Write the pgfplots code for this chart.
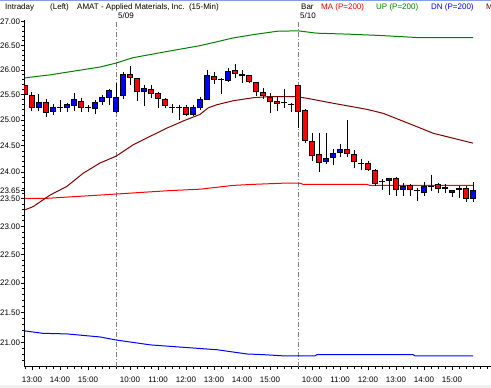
\documentclass[border=0pt]{standalone}
\usepackage{pgfplots}
\usepackage{pgfplotstable}
\pgfplotsset{compat=1.18}
\usepackage{fontspec}
\setmainfont{Liberation Sans}
\definecolor{upgreen}{RGB}{0,128,0}
\definecolor{maroonline}{RGB}{128,0,0}
\definecolor{sepgray}{RGB}{128,128,128}
\definecolor{topline}{RGB}{130,160,225}

\pgfplotstableread{
i o h l c
0 25.68 25.76 25.40 25.50
1 25.48 25.56 25.17 25.24
2 25.24 25.52 25.17 25.34
3 25.34 25.41 25.06 25.15
4 25.16 25.32 25.10 25.24
5 25.24 25.40 25.15 25.24
6 25.24 25.34 25.15 25.30
7 25.29 25.53 25.18 25.40
8 25.36 25.43 25.16 25.25
9 25.24 25.30 25.16 25.24
10 25.22 25.40 25.12 25.35
11 25.36 25.50 25.30 25.45
12 25.45 25.61 25.30 25.58
13 25.16 25.74 25.14 25.45
14 25.48 25.95 25.41 25.90
15 25.90 26.08 25.70 25.85
16 25.83 25.83 25.38 25.56
17 25.56 25.70 25.28 25.63
18 25.61 25.70 25.43 25.53
19 25.52 25.55 25.23 25.43
20 25.40 25.43 25.23 25.28
21 25.24 25.32 25.14 25.24
22 25.24 25.30 25.00 25.24
23 25.25 25.30 25.08 25.11
24 25.11 25.30 25.08 25.24
25 25.25 25.46 25.20 25.41
26 25.41 26.00 25.40 25.88
27 25.86 25.95 25.72 25.81
28 25.81 25.83 25.51 25.81
29 25.78 26.03 25.76 25.97
30 25.98 26.12 25.83 25.92
31 25.90 26.00 25.74 25.90
32 25.88 25.90 25.73 25.76
33 25.74 25.76 25.48 25.56
34 25.54 25.63 25.41 25.48
35 25.45 25.53 25.14 25.36
36 25.37 25.48 25.18 25.33
37 25.34 25.61 25.24 25.34
38 25.31 25.33 25.15 25.31
39 25.68 25.70 24.84 25.17
40 25.18 25.21 24.56 24.60
41 24.59 24.74 24.20 24.31
42 24.33 24.75 24.00 24.18
43 24.19 24.75 24.15 24.26
44 24.28 24.43 24.13 24.35
45 24.37 24.53 24.29 24.42
46 24.42 24.99 24.29 24.35
47 24.34 24.41 24.07 24.20
48 24.16 24.24 24.04 24.16
49 24.16 24.20 24.02 24.04
50 24.02 24.06 23.74 23.79
51 23.82 23.87 23.67 23.82
52 23.84 23.89 23.58 23.87
53 23.87 23.91 23.55 23.68
54 23.67 23.79 23.55 23.73
55 23.74 23.77 23.56 23.68
56 23.65 23.70 23.47 23.65
57 23.62 23.82 23.56 23.73
58 23.73 23.95 23.64 23.73
59 23.76 23.79 23.61 23.70
60 23.70 23.77 23.61 23.70
61 23.61 23.67 23.53 23.65
62 23.68 23.73 23.51 23.68
63 23.70 23.73 23.44 23.50
64 23.50 23.81 23.44 23.65
}\candles

\begin{document}
\begin{tikzpicture}[font=\fontsize{8}{9.6}\selectfont]
\clip (0,0) rectangle (491pt,388pt);
\fill[white] (0,0) rectangle (491pt,388pt);
\fill[black!6] (0,0) rectangle (491pt,2.5pt);
\draw[topline, line width=1pt] (0,387.5pt) -- (491pt,387.5pt);

\begin{axis}[
  at={(24.3pt,21pt)}, anchor=south west,
  scale only axis, width=466.7pt, height=347pt,
  xmin=-0.1, xmax=66.57,
  ymode=log, ymin=20.60, ymax=27.04,
  axis x line*=bottom, axis y line*=left,
  axis line style={black, line width=1pt},
  tick align=outside,
  major tick length=3pt, minor tick length=2pt,
  tick style={black, line width=0.8pt},
  xtick={1,5,9,15,19,23,27,31,35,41,45,49,53,57,61},
  xticklabels={13:00,14:00,15:00,10:00,11:00,12:00,13:00,14:00,15:00,10:00,11:00,12:00,13:00,14:00,15:00},
  minor xtick={0,...,66},
  ytick={21,21.5,22,22.5,23,23.5,23.65,24,24.5,25,25.5,26,26.5,27},
  yticklabels={21.00,21.50,22.00,22.50,23.00,23.50,23.65,24.00,24.50,25.00,25.50,26.00,26.50,27.00},
  minor ytick={20.7,20.8,20.9,21.1,21.2,21.3,21.4,21.6,21.7,21.8,21.9,22.1,22.2,22.3,22.4,22.6,22.7,22.8,22.9,23.1,23.2,23.3,23.4,23.6,23.7,23.8,23.9,24.1,24.2,24.3,24.4,24.6,24.7,24.8,24.9,25.1,25.2,25.3,25.4,25.6,25.7,25.8,25.9,26.1,26.2,26.3,26.4,26.6,26.7,26.8,26.9},
  xticklabel style={font=\fontsize{8}{9.6}\selectfont, inner sep=1pt, yshift=-6pt},
  yticklabel style={font=\fontsize{8}{9.6}\selectfont, inner sep=1pt},
  grid=none,
]
% session separators
\addplot[sepgray, line width=0.8pt, dash pattern=on 5pt off 2pt on 1pt off 2pt, forget plot] coordinates {(13,20.60) (13,27.04)};
\addplot[sepgray, line width=0.8pt, dash pattern=on 5pt off 2pt on 1pt off 2pt, forget plot] coordinates {(39,20.60) (39,27.04)};

% UP (P=200)
\addplot[upgreen, line width=1pt] coordinates {
(0,25.84) (3.57,25.90) (10.71,26.06) (13,26.14) (15.4,26.25) (20.3,26.38) (25,26.50) (27.4,26.58) (29.7,26.66) (32.6,26.73) (36,26.80) (39,26.81) (41.7,26.76) (46.4,26.74) (51.1,26.71) (56,26.67) (64,26.67)};
% DN (P=200)
\addplot[blue, line width=1pt] coordinates {
(0,21.19) (2.57,21.15) (6,21.14) (10.71,21.09) (13,21.04) (17.86,20.96) (22.57,20.92) (27.43,20.88) (31.71,20.81) (34,20.80) (36.86,20.78) (41.43,20.78) (41.7,20.80) (55.43,20.80) (55.71,20.78) (64,20.78)};
% MA (P=200)
\addplot[red, line width=1pt] coordinates {
(0,23.51) (3,23.51) (13,23.59) (20.24,23.65) (25,23.68) (29.76,23.75) (32.61,23.77) (36.67,23.79) (39.29,23.79) (39.76,23.77) (48.81,23.77) (49.29,23.75) (64,23.75)};
% maroon MA
\addplot[maroonline, line width=1pt] coordinates {
(0,23.30) (1.19,23.36) (3.57,23.57) (5.96,23.73) (8.33,23.98) (10.71,24.17) (13,24.30) (15.47,24.52) (17.86,24.68) (20.24,24.84) (22.61,24.98) (25,25.11) (26.19,25.24) (27.39,25.30) (29.76,25.38) (32.61,25.44) (34.53,25.46) (38.81,25.46) (40.24,25.43) (44.04,25.33) (48.81,25.21) (51.19,25.13) (53.57,25.00) (55.96,24.87) (58.33,24.74) (60.71,24.66) (64,24.55)};

% candles
\pgfplotstablegetrowsof{\candles}
\pgfmathtruncatemacro\lastrow{\pgfplotsretval-1}
\pgfplotsforeachungrouped \r in {0,...,\lastrow}{%
  \pgfplotstablegetelem{\r}{i}\of\candles \let\vx\pgfplotsretval
  \pgfplotstablegetelem{\r}{o}\of\candles \let\vo\pgfplotsretval
  \pgfplotstablegetelem{\r}{h}\of\candles \let\vh\pgfplotsretval
  \pgfplotstablegetelem{\r}{l}\of\candles \let\vl\pgfplotsretval
  \pgfplotstablegetelem{\r}{c}\of\candles \let\vc\pgfplotsretval
  \pgfmathsetmacro\xa{\vx-0.29}%
  \pgfmathsetmacro\xb{\vx+0.29}%
  \pgfmathsetmacro\xc{\vx-0.36}%
  \pgfmathsetmacro\xd{\vx+0.36}%
  \pgfmathtruncatemacro\kind{\vc>\vo ? 1 : (\vc<\vo ? 2 : 0)}%
  \edef\cmd{\noexpand\addplot[black, line width=1pt, forget plot] coordinates {(\vx,\vl) (\vx,\vh)};}\cmd
  \ifcase\kind
    \edef\cmd{\noexpand\addplot[black, line width=1.4pt, forget plot] coordinates {(\xc,\vo) (\xd,\vo)};}\cmd
  \or
    \edef\cmd{\noexpand\addplot[draw=black, fill=blue, line width=1pt, line join=miter, forget plot] coordinates {(\xa,\vo) (\xb,\vo) (\xb,\vc) (\xa,\vc) (\xa,\vo) (\xb,\vo)};}\cmd
  \or
    \edef\cmd{\noexpand\addplot[draw=black, fill=red, line width=1pt, line join=miter, forget plot] coordinates {(\xa,\vo) (\xb,\vo) (\xb,\vc) (\xa,\vc) (\xa,\vo) (\xb,\vo)};}\cmd
  \fi
}
\end{axis}

% header
\node[anchor=base west, inner sep=0pt] at (5pt,378.7pt) {Intraday};
\node[anchor=base west, inner sep=0pt] at (50pt,378.7pt) {(Left)};
\node[anchor=base west, inner sep=0pt] at (77pt,378.7pt) {AMAT - Applied Materials, Inc.\ \ (15-Min)};
\node[anchor=base west, inner sep=0pt] at (301pt,378.7pt) {Bar};
\node[anchor=base west, inner sep=0pt, text=red] at (321pt,378.7pt) {MA (P=200)};
\node[anchor=base west, inner sep=0pt, text=upgreen] at (376pt,378.7pt) {UP (P=200)};
\node[anchor=base west, inner sep=0pt, text=blue] at (431pt,378.7pt) {DN (P=200)};
\node[anchor=base west, inner sep=0pt, text=maroonline] at (486pt,378.7pt) {MA (P=50)};
\node[anchor=base west, inner sep=0pt] at (118pt,369.5pt) {5/09};
\node[anchor=base west, inner sep=0pt] at (300pt,369.5pt) {5/10};
\end{tikzpicture}
\end{document}
